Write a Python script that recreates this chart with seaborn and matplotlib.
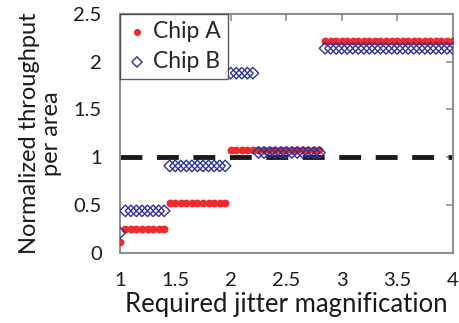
import numpy as np
import pandas as pd
import matplotlib
matplotlib.use("Agg")
import matplotlib.pyplot as plt
import seaborn as sns

# ─── Data ────────────────────────────────────────────────────────────────────
jitter = np.round(np.arange(1.0, 4.0001, 0.05), 2)

# step levels: (start, end, value)
chip_a_steps = [(1.00, 1.00, 0.11), (1.05, 1.40, 0.25), (1.45, 1.95, 0.52),
                (2.00, 2.80, 1.08), (2.85, 4.00, 2.22)]
chip_b_steps = [(1.00, 1.00, 0.21), (1.05, 1.40, 0.44), (1.45, 1.95, 0.91),
                (2.00, 2.20, 1.88), (2.25, 2.80, 1.05), (2.85, 4.00, 2.14)]
baseline = 1.0


def expand(steps):
    vals = []
    for x in jitter:
        for lo, hi, v in steps:
            if lo - 1e-9 <= x <= hi + 1e-9:
                vals.append(v)
                break
    return vals


chip_a = expand(chip_a_steps)
chip_b = expand(chip_b_steps)

df = pd.DataFrame({
    "jitter": np.concatenate([jitter, jitter]),
    "throughput": chip_a + chip_b,
    "chip": ["Chip A"] * len(jitter) + ["Chip B"] * len(jitter),
})

# ─── Plot ────────────────────────────────────────────────────────────────────
sns.set_style("white")
plt.rcParams["font.family"] = ["Lato", "DejaVu Sans"]

fig = plt.figure(figsize=(4.59, 3.23), dpi=100)
ax = fig.add_axes([0.261, 0.217, 0.725, 0.740])

red = "#ee2a2e"
navy = "#2e3192"

ax.axhline(baseline, color="#1a1a1a", lw=3.5, dashes=(4.5, 3), zorder=1)

sns.scatterplot(data=df[df.chip == "Chip A"], x="jitter", y="throughput",
                ax=ax, color=red, marker="o", s=32, edgecolor=red,
                linewidth=0, label="Chip A", zorder=3)
sns.scatterplot(data=df[df.chip == "Chip B"], x="jitter", y="throughput",
                ax=ax, marker="D", s=34, facecolor="none", edgecolor=navy,
                linewidth=1.0, label="Chip B", zorder=4)

ax.set_xlim(1, 4)
ax.set_ylim(0, 2.5)
ax.set_xticks([1, 1.5, 2, 2.5, 3, 3.5, 4])
ax.set_xticklabels(["1", "1.5", "2", "2.5", "3", "3.5", "4"])
ax.set_yticks([0, 0.5, 1, 1.5, 2, 2.5])
ax.set_yticklabels(["0", "0.5", "1", "1.5", "2", "2.5"])

ax.set_xlabel("Required jitter magnification", fontsize=18.5, color="#1a1a1a",
              labelpad=2)
ax.set_ylabel("Normalized throughput\nper area", fontsize=17, color="#1a1a1a",
              linespacing=1.05)
ax.yaxis.set_label_coords(-0.175, 0.5)

for sp in ax.spines.values():
    sp.set_visible(True)
    sp.set_color("#8c9096")
    sp.set_linewidth(1.5)
ax.tick_params(axis="both", which="both", direction="in", length=5,
               width=1.2, color="#8c9096", labelsize=14.5,
               labelcolor="#1a1a1a", top=True, right=True)
ax.tick_params(axis="x", pad=14)
ax.tick_params(axis="y", pad=13)

leg = ax.legend(loc="upper left", bbox_to_anchor=(0.0, 1.0), fontsize=16.5,
                frameon=True, fancybox=False, edgecolor="#333333",
                handletextpad=0.25, borderpad=0.3, labelspacing=0.4,
                handlelength=0.9, borderaxespad=0.0, markerscale=0.9)
leg.get_frame().set_linewidth(1.0)

fig.savefig("out.png", dpi=100)
